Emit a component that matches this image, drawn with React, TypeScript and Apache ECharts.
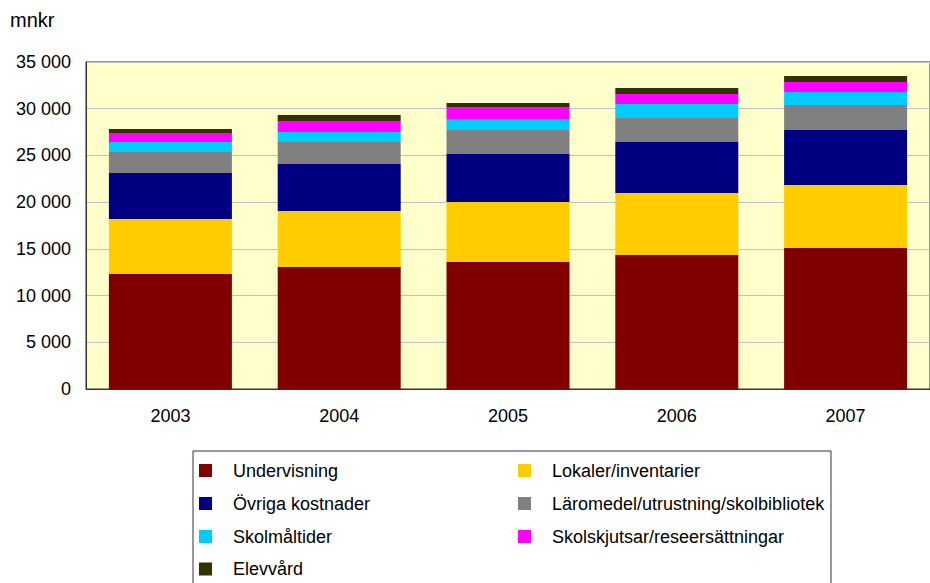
import React, { useEffect, useRef } from "react";
import * as echarts from "echarts";

const years = ["2003", "2004", "2005", "2006", "2007"];

const undervisning = [12310, 13060, 13590, 14340, 15090];
const lokaler = [5890, 5990, 6420, 6640, 6740];
const ovriga = [4920, 5030, 5140, 5460, 5890];
const laromedel = [2250, 2360, 2570, 2570, 2680];
const skolmaltider = [1070, 1070, 1100, 1500, 1390];
const skolskjutsar = [960, 1180, 1360, 1070, 1070];
const elevvard = [430, 640, 430, 640, 640];

const seriesNames = [
  "Undervisning",
  "Lokaler/inventarier",
  "Övriga kostnader",
  "Läromedel/utrustning/skolbibliotek",
  "Skolmåltider",
  "Skolskjutsar/reseersättningar",
  "Elevvård",
];
const seriesValues = [undervisning, lokaler, ovriga, laromedel, skolmaltider, skolskjutsar, elevvard];
const seriesColors = ["#800000", "#FFCC00", "#000080", "#808080", "#00CCFF", "#FF00FF", "#333300"];

const legendLeftColumn = ["Undervisning", "Övriga kostnader", "Skolmåltider", "Elevvård"];
const legendRightColumn = ["Lokaler/inventarier", "Läromedel/utrustning/skolbibliotek", "Skolskjutsar/reseersättningar"];

const yTicks = { min: 0, max: 35000, interval: 5000 };
const unitLabel = "mnkr";

const FONT = "'Liberation Sans', Arial, sans-serif";

export default function App() {
  const ref = useRef<HTMLDivElement>(null);
  useEffect(() => {
    document.body.style.margin = "0";
    const chart = echarts.init(ref.current!, null, { renderer: "svg" });
    const legendText = {
      fontFamily: FONT,
      fontSize: 18,
      color: "#000",
      lineHeight: 20,
      padding: [0, 0, 0, 16],
    };
    const rowTops = [460.5, 493.5, 526.5, 559];
    const makeLegend = (name: string, left: number, row: number) => ({
      data: [name],
      orient: "horizontal",
      left,
      top: rowTops[row],
      padding: 0,
      itemWidth: 13,
      itemHeight: 13,
      icon: "rect",
      textStyle: legendText,
      selectedMode: false,
    });
    const legends = [
      ...legendLeftColumn.map((n, i) => makeLegend(n, 199, i)),
      ...legendRightColumn.map((n, i) => makeLegend(n, 518, i)),
    ];
    chart.setOption({
      animation: false,
      backgroundColor: "#ffffff",
      textStyle: { fontFamily: FONT },
      grid: {
        left: 86,
        top: 62,
        right: -2,
        bottom: 194,
        show: true,
        backgroundColor: "#FFFFCC",
        borderColor: "#333333",
        borderWidth: 1,
        containLabel: false,
      },
      graphic: [
        {
          type: "text",
          left: 10,
          top: 10,
          style: { text: unitLabel, font: `20px ${FONT}`, fill: "#000" },
        },
        {
          type: "rect",
          shape: { x: 193, y: 451, width: 638, height: 200 },
          style: { fill: "none", stroke: "#333333", lineWidth: 1 },
          z: 0,
        },
      ],
      legend: legends,
      xAxis: {
        type: "category",
        data: years,
        axisLine: { show: true, lineStyle: { color: "#333333", width: 1 } },
        axisTick: { show: false },
        axisLabel: { color: "#000", fontSize: 18, fontFamily: FONT, margin: 18 },
      },
      yAxis: {
        type: "value",
        min: yTicks.min,
        max: yTicks.max,
        interval: yTicks.interval,
        axisLine: { show: true, lineStyle: { color: "#333333", width: 1 } },
        axisTick: { show: false },
        axisLabel: {
          color: "#000",
          fontSize: 18,
          fontFamily: FONT,
          margin: 15,
          formatter: (v: number) => String(v).replace(/\B(?=(\d{3})+(?!\d))/g, " "),
        },
        splitLine: { show: true, lineStyle: { color: "#c0c0c0", width: 1 } },
      },
      series: seriesNames.map((name, i) => ({
        name,
        type: "bar",
        stack: "total",
        data: seriesValues[i],
        barWidth: 123,
        itemStyle: { color: seriesColors[i] },
      })),
    });
    return () => chart.dispose();
  }, []);
  return <div ref={ref} style={{ position: "fixed", left: 0, top: 0, width: 930, height: 583 }} />;
}
